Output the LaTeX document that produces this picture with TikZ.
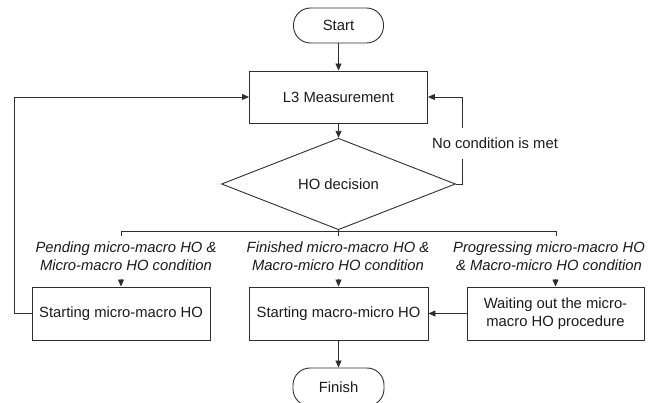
\documentclass[tikz,border=0pt]{standalone}
\usepackage{fontspec}
\setmainfont{Liberation Sans}
\usetikzlibrary{shapes.geometric,arrows.meta}
\definecolor{ln}{HTML}{2E2E2E}
\definecolor{txt}{HTML}{1A1A1A}
\begin{document}
\begin{tikzpicture}[x=1pt,y=-1pt,
  every node/.style={font=\fontsize{14.8}{18}\selectfont, text=txt},
  box/.style={draw=ln, line width=0.9pt, rectangle, inner sep=0pt, minimum height=53pt, align=center},
  pill/.style={draw=ln, line width=0.9pt, rectangle, rounded corners=17pt, minimum width=90pt, minimum height=35pt, inner sep=0pt},
  lbl/.style={font=\itshape\fontsize{14.8}{18}\selectfont, align=center, inner sep=0pt},
  conn/.style={draw=ln, line width=0.9pt},
  arr/.style={conn, -{Triangle[length=7pt,width=6pt]}}
]
\useasboundingbox (0,0) rectangle (649,403);
\node[pill] (start) at (338.5,25.5) {Start};
\node[box, minimum width=178pt, minimum height=52pt] (l3) at (338.5,97) {L3 Measurement};
\node[draw=ln, line width=0.9pt, diamond, minimum width=234pt, minimum height=76pt, inner sep=0pt] (dia) at (338.5,184) {HO decision};
\draw[arr] (start) -- (l3);
\draw[arr] (l3) -- (dia);

\coordinate (rc) at (462,184);
\node[minimum height=31pt, inner sep=0pt] (nc) at (495,143.5) {No condition is met};
\draw[conn] (dia.east) -- (rc) -- (rc |- nc.south);
\draw[arr] (rc |- nc.north) |- (l3.east);

\coordinate (bl) at (121,231);
\coordinate (bm) at (338.5,231);
\coordinate (br) at (556,231);
\draw[conn] (dia.south) -- (bm) -- ++(0,5);
\draw[conn] (bl) -- (br);
\draw[conn] (bl) -- ++(0,5);
\draw[conn] (br) -- ++(0,5);

\node[lbl] (la) at (126,256) {Pending micro-macro HO \&\\Micro-macro HO condition};
\node[lbl] (lb) at (338,256) {Finished micro-macro HO \&\\Macro-micro HO condition};
\node[lbl] (lc) at (549,256) {Progressing micro-macro HO\\\& Macro-micro HO condition};

\node[box, minimum width=178pt] (b1) at (121,313.5) {Starting micro-macro HO};
\node[box, minimum width=179pt] (b2) at (338.5,313.5) {Starting macro-micro HO};
\node[box, minimum width=177pt] (b3) at (555.5,313.5) {Waiting out the micro-\\macro HO procedure};

\draw[arr] ([yshift=8pt]b1.north) -- (b1.north);
\draw[arr] ([yshift=8pt]b2.north) -- (b2.north);
\draw[arr] ([yshift=8pt]b3.north) -- (b3.north);
\draw[arr] (b3.west) -- (b2.east);

\node[pill, minimum width=91pt, minimum height=38pt] (fin) at (338.5,387) {Finish};
\draw[arr] (b2.south) -- (fin.north);

\coordinate (lft) at (14,0);
\draw[arr] (b1.west) -- (b1.west -| lft) |- (l3.west);
\end{tikzpicture}
\end{document}
